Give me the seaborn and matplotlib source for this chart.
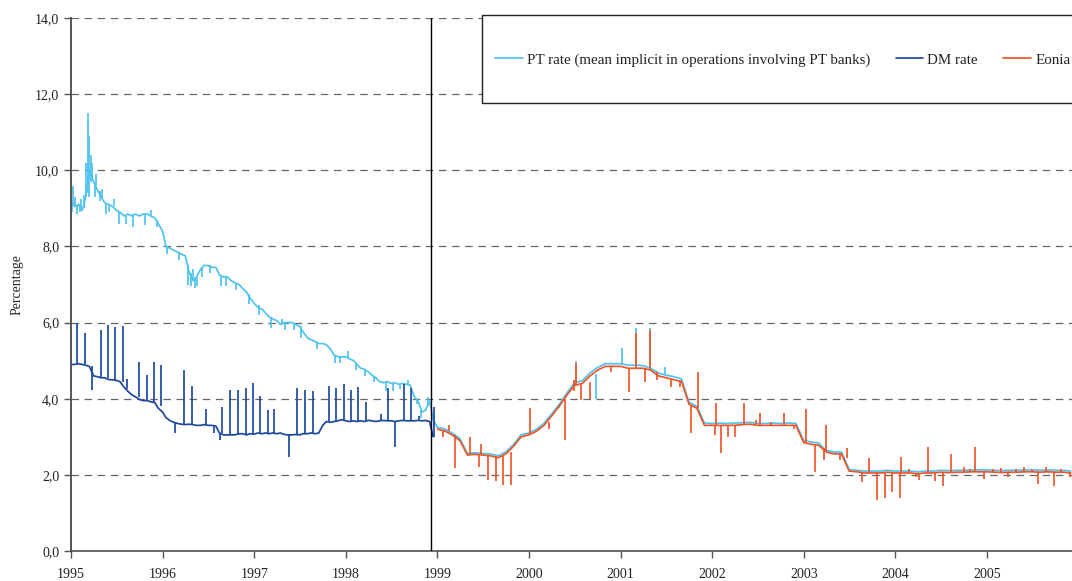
import pandas as pd
import matplotlib
matplotlib.use("Agg")
import matplotlib.pyplot as plt
import matplotlib.dates as mdates
from matplotlib.patches import Rectangle
from matplotlib.ticker import FuncFormatter
import seaborn as sns

# PT rate, semi-monthly 1995-1998
pt_9598 = [
    9.2, 9.05, 9.1, 8.95, 9.3, 10.0, 9.7, 9.5, 9.3, 9.15, 9.1, 9.05,
    8.95, 8.9, 8.8, 8.85, 8.8, 8.85, 8.8, 8.85, 8.85, 8.8, 8.75, 8.6,
    8.4, 8.0, 7.95, 7.9, 7.85, 7.8, 7.75, 7.35, 7.1, 7.2, 7.4, 7.5,
    7.5, 7.45, 7.45, 7.25, 7.2, 7.2, 7.1, 7.05, 7.0, 6.9, 6.8, 6.65,
    6.5, 6.4, 6.35, 6.25, 6.15, 6.1, 6.05, 5.95, 6.0, 6.0, 6.0, 5.95,
    5.9, 5.75, 5.6, 5.55, 5.5, 5.45, 5.45, 5.42, 5.3, 5.15, 5.1, 5.1,
    5.1, 5.05, 5.0, 4.9, 4.8, 4.78, 4.7, 4.62, 4.55, 4.45, 4.42, 4.45,
    4.4, 4.42, 4.38, 4.4, 4.38, 4.35, 4.05, 3.95, 3.65, 3.7, 3.95, 3.45,
]
# PT rate, monthly 1999-2005
pt_9905 = [
    3.25, 3.2, 3.1, 2.95, 2.56, 2.58, 2.56, 2.55, 2.5, 2.6, 2.8, 3.05,
    3.1, 3.2, 3.35, 3.6, 3.85, 4.15, 4.42, 4.47, 4.68, 4.82, 4.92, 4.92,
    4.92, 4.88, 4.88, 4.87, 4.8, 4.67, 4.62, 4.58, 4.52, 3.9, 3.8, 3.36,
    3.35, 3.36, 3.35, 3.36, 3.37, 3.38, 3.35, 3.35, 3.36, 3.35, 3.36, 3.35,
    2.9, 2.86, 2.84, 2.64, 2.6, 2.6, 2.14, 2.12, 2.1, 2.1, 2.1, 2.12,
    2.1, 2.1, 2.1, 2.08, 2.1, 2.1, 2.12, 2.11, 2.12, 2.12, 2.13, 2.13,
    2.13, 2.12, 2.11, 2.12, 2.12, 2.13, 2.13, 2.12, 2.13, 2.12, 2.12, 2.1,
]
# DM rate, semi-monthly 1995-1998
dm_rate = [
    4.9, 4.9, 4.92, 4.9, 4.88, 4.85, 4.6, 4.58, 4.55, 4.55, 4.5, 4.5,
    4.48, 4.45, 4.3, 4.2, 4.1, 4.05, 3.98, 3.95, 3.95, 3.92, 3.9, 3.75,
    3.65, 3.5, 3.42, 3.38, 3.35, 3.33, 3.32, 3.33, 3.32, 3.3, 3.3, 3.32,
    3.3, 3.3, 3.28, 3.1, 3.05, 3.05, 3.05, 3.05, 3.08, 3.08, 3.05, 3.08,
    3.07, 3.1, 3.08, 3.1, 3.08, 3.1, 3.08, 3.1, 3.06, 3.05, 3.05, 3.06,
    3.05, 3.08, 3.08, 3.1, 3.08, 3.1, 3.3, 3.4, 3.38, 3.4, 3.42, 3.45,
    3.42, 3.4, 3.42, 3.4, 3.42, 3.4, 3.43, 3.42, 3.4, 3.42, 3.43, 3.42,
    3.42, 3.4, 3.42, 3.43, 3.42, 3.42, 3.42, 3.43, 3.42, 3.43, 3.4, 3.0,
]
# Eonia, monthly 1999-2005
eonia = [
    3.2, 3.15, 3.05, 2.9, 2.52, 2.54, 2.52, 2.5, 2.45, 2.55, 2.75, 3.0,
    3.05, 3.15, 3.3, 3.55, 3.8, 4.1, 4.35, 4.4, 4.6, 4.75, 4.85, 4.85,
    4.85, 4.8, 4.8, 4.8, 4.75, 4.6, 4.55, 4.5, 4.45, 3.85, 3.75, 3.3,
    3.3, 3.3, 3.3, 3.3, 3.32, 3.33, 3.3, 3.3, 3.3, 3.3, 3.3, 3.3,
    2.85, 2.8, 2.78, 2.6, 2.55, 2.55, 2.1, 2.08, 2.05, 2.05, 2.05, 2.07,
    2.05, 2.05, 2.05, 2.03, 2.05, 2.05, 2.07, 2.06, 2.07, 2.07, 2.08, 2.08,
    2.08, 2.07, 2.06, 2.07, 2.07, 2.08, 2.08, 2.07, 2.08, 2.07, 2.07, 2.05,
]

# single-day spikes: date, usual level, spike value
pt_spike_dates = ["1995-01-03", "1995-01-09", "1995-01-16", "1995-01-25", "1995-02-05",
                  "1995-02-10", "1995-02-20", "1995-03-03", "1995-03-08", "1995-03-12",
                  "1995-03-15", "1995-03-20", "1995-03-25", "1995-04-05", "1995-04-12",
                  "1995-04-25", "1995-05-05", "1995-05-20", "1995-06-01", "1995-06-20",
                  "1995-07-10", "1995-08-10", "1995-09-05", "1995-10-25", "1995-11-15",
                  "1995-12-10", "1996-01-20", "1996-03-05", "1996-04-10", "1996-04-22",
                  "1996-05-01", "1996-05-10", "1996-05-18", "1996-06-08", "1996-07-10",
                  "1996-08-22", "1996-09-10", "1996-10-20", "1996-12-10", "1997-01-20",
                  "1997-03-10", "1997-04-20", "1997-05-05", "1997-06-10", "1997-07-05",
                  "1997-09-10", "1997-11-20", "1997-12-10", "1998-01-10", "1998-02-10",
                  "1998-03-20", "1998-04-25", "1998-06-10", "1998-07-10", "1998-08-05",
                  "1998-09-05", "1998-10-10", "1998-10-28", "1998-11-25",
                  "2000-07-06", "2000-09-25", "2001-01-05", "2001-03-05", "2001-04-27",
                  "2001-06-25"]
pt_spike_base = [9.2, 9.1, 9.05, 9.05, 9.1, 9.0, 9.0, 9.3, 9.4, 9.8,
                 10.0, 9.7, 9.8, 9.7, 9.6, 9.45, 9.25, 9.15, 9.1, 9.05,
                 8.9, 8.8, 8.85, 8.85, 8.8, 8.7, 8.0, 7.85, 7.5, 7.3,
                 7.1, 7.15, 7.2, 7.45, 7.5, 7.25, 7.2, 7.05, 6.75, 6.45,
                 6.12, 5.95, 6.0, 6.0, 5.9, 5.48, 5.15, 5.1, 5.08, 4.95,
                 4.77, 4.6, 4.45, 4.4, 4.38, 4.38, 4.0, 3.7, 3.8,
                 4.4, 4.65, 4.9, 4.88, 4.85, 4.65]
pt_spike_peak = [8.9, 9.6, 9.3, 8.85, 8.9, 9.25, 9.35, 10.2, 11.5, 10.9,
                 9.3, 10.4, 10.2, 9.3, 9.9, 9.2, 9.5, 8.85, 8.9, 9.25,
                 8.6, 8.6, 8.5, 8.55, 8.95, 8.5, 7.8, 7.65, 7.0, 6.95,
                 7.4, 6.9, 6.95, 7.2, 7.3, 6.95, 6.95, 6.85, 6.5, 6.2,
                 5.85, 6.1, 5.8, 5.8, 5.6, 5.3, 4.95, 4.95, 5.25, 4.75,
                 4.6, 4.45, 4.2, 4.2, 4.25, 4.5, 3.85, 3.5, 4.05,
                 5.0, 4.0, 5.33, 5.85, 5.85, 4.83]

dm_spike_dates = ["1995-01-26", "1995-02-26", "1995-03-27", "1995-04-30", "1995-05-29",
                  "1995-06-25", "1995-07-27", "1995-08-14", "1995-09-29", "1995-10-31",
                  "1995-11-29", "1995-12-25", "1996-02-20", "1996-03-27", "1996-04-27",
                  "1996-06-22", "1996-07-26", "1996-08-18", "1996-08-26", "1996-09-27",
                  "1996-10-29", "1996-11-27", "1996-12-25", "1997-01-25", "1997-02-24",
                  "1997-03-22", "1997-05-21", "1997-06-22", "1997-07-23", "1997-08-25",
                  "1997-10-25", "1997-11-23", "1997-12-23", "1998-01-23", "1998-02-19",
                  "1998-03-23", "1998-05-22", "1998-06-18", "1998-07-18", "1998-08-20",
                  "1998-09-18", "1998-10-21", "1998-12-20"]
dm_spike_base = [4.9, 4.9, 4.85, 4.58, 4.55, 4.5, 4.45, 4.25, 4.05, 3.95,
                 3.92, 3.8, 3.38, 3.33, 3.32, 3.31, 3.3, 3.1, 3.1, 3.05,
                 3.05, 3.08, 3.07, 3.1, 3.1, 3.09, 3.05, 3.06, 3.07, 3.09,
                 3.4, 3.4, 3.44, 3.41, 3.41, 3.42, 3.42, 3.44, 3.42, 3.42,
                 3.42, 3.42, 3.0]
dm_spike_peak = [6.0, 5.72, 4.23, 5.8, 5.93, 5.88, 5.9, 4.53, 4.97, 4.62,
                 4.97, 4.88, 3.1, 4.75, 4.33, 3.72, 3.1, 2.92, 3.79, 4.23,
                 4.23, 4.28, 4.42, 4.07, 3.7, 3.72, 2.47, 4.28, 4.23, 4.21,
                 4.33, 4.28, 4.38, 4.23, 4.3, 3.92, 3.59, 4.29, 2.74, 4.38,
                 4.28, 3.55, 3.78]

eonia_spike_dates = ["1999-01-25", "1999-02-16", "1999-03-14", "1999-05-11", "1999-06-18",
                     "1999-06-24", "1999-07-21", "1999-08-21", "1999-09-19", "1999-10-23",
                     "2000-01-04", "2000-03-20", "2000-05-26", "2000-06-28", "2000-07-06",
                     "2000-07-28", "2000-08-31", "2000-11-25", "2001-02-03", "2001-03-05",
                     "2001-04-08", "2001-04-27", "2001-05-25", "2001-07-20", "2001-08-25",
                     "2001-10-10", "2001-11-06", "2002-01-13", "2002-01-15", "2002-02-06",
                     "2002-03-06", "2002-04-02", "2002-05-08", "2002-06-25", "2002-07-09",
                     "2002-08-25", "2002-10-14", "2002-11-25", "2003-01-11", "2003-02-15",
                     "2003-03-21", "2003-03-29", "2003-05-25", "2003-06-21", "2003-08-20",
                     "2003-09-19", "2003-10-21", "2003-11-21", "2003-12-21", "2004-01-22",
                     "2004-01-26", "2004-02-25", "2004-03-25", "2004-04-05", "2004-05-09",
                     "2004-06-08", "2004-07-11", "2004-08-09", "2004-09-30", "2004-10-25",
                     "2004-11-16", "2004-12-22", "2005-01-25", "2005-02-25", "2005-03-25",
                     "2005-04-26", "2005-05-27", "2005-06-28", "2005-07-22", "2005-08-25",
                     "2005-09-26", "2005-10-25", "2005-11-30"]
eonia_spike_base = [3.18, 3.15, 3.05, 2.52, 2.52, 2.52, 2.52, 2.5, 2.5, 2.6,
                    3.05, 3.4, 4.0, 4.2, 4.35, 4.35, 4.45, 4.85, 4.8, 4.8,
                    4.8, 4.77, 4.7, 4.52, 4.5, 3.8, 3.75, 3.3, 3.3, 3.3,
                    3.3, 3.3, 3.32, 3.33, 3.3, 3.3, 3.3, 3.3, 2.85, 2.8,
                    2.7, 2.62, 2.55, 2.45, 2.08, 2.05, 2.05, 2.05, 2.06, 2.05,
                    2.05, 2.05, 2.05, 2.03, 2.05, 2.05, 2.07, 2.06, 2.07, 2.07,
                    2.08, 2.08, 2.08, 2.07, 2.06, 2.07, 2.07, 2.08, 2.08, 2.07,
                    2.08, 2.07, 2.07]
eonia_spike_peak = [3.0, 3.3, 2.18, 3.0, 2.2, 2.8, 1.86, 1.83, 1.74, 1.74,
                    3.76, 3.2, 2.92, 4.5, 4.93, 3.97, 4.0, 4.7, 4.18, 5.72,
                    4.45, 5.8, 4.5, 4.3, 4.3, 3.1, 4.7, 3.05, 3.88, 2.57,
                    3.0, 3.0, 3.88, 3.45, 3.62, 3.4, 3.62, 3.2, 3.72, 2.07,
                    2.4, 3.3, 2.4, 2.7, 1.81, 2.44, 1.34, 1.39, 1.55, 1.4,
                    2.47, 2.15, 1.95, 1.86, 2.74, 1.85, 1.71, 2.55, 2.2, 2.15,
                    2.74, 1.9, 2.15, 2.18, 1.95, 2.15, 2.2, 2.15, 1.76, 2.2,
                    1.7, 2.15, 1.95]

dates_9598 = pd.date_range("1995-01-01", "1998-12-15", freq="SMS")
dates_9905 = pd.date_range("1999-01-01", "2005-12-01", freq="MS")

pt = pd.DataFrame({"date": list(dates_9598) + list(dates_9905), "rate": pt_9598 + pt_9905})
dm = pd.DataFrame({"date": dates_9598, "rate": dm_rate})
eo = pd.DataFrame({"date": dates_9905, "rate": eonia})

c_pt = "#4fc3ef"
c_dm = "#1e48a0"
c_eo = "#f0552a"
lw = 1.25

sns.set_style("white")
plt.rcParams["font.family"] = ["Liberation Serif", "DejaVu Serif"]
plt.rcParams["text.color"] = "#222222"

fig, ax = plt.subplots(figsize=(10.72, 5.81), dpi=100)
fig.subplots_adjust(left=71 / 1072, right=1.0, bottom=1 - 551 / 581, top=1 - 18 / 581)

sns.lineplot(data=pt, x="date", y="rate", color=c_pt, lw=lw, ax=ax, zorder=2,
             label="PT rate (mean implicit in operations involving PT banks)")
ax.vlines(pd.to_datetime(pt_spike_dates), pt_spike_base, pt_spike_peak, color=c_pt, lw=lw, zorder=2)
sns.lineplot(data=dm, x="date", y="rate", color=c_dm, lw=lw, ax=ax, zorder=3, label="DM rate")
ax.vlines(pd.to_datetime(dm_spike_dates), dm_spike_base, dm_spike_peak, color=c_dm, lw=lw, zorder=3)
sns.lineplot(data=eo, x="date", y="rate", color=c_eo, lw=lw, ax=ax, zorder=3, label="Eonia")
ax.vlines(pd.to_datetime(eonia_spike_dates), eonia_spike_base, eonia_spike_peak, color=c_eo, lw=lw, zorder=3)

ax.axvline(pd.Timestamp("1998-12-08"), color="black", lw=1.0, zorder=4)

handles, labels = ax.get_legend_handles_labels()
if ax.get_legend() is not None:
    ax.get_legend().remove()

ax.set_xlim(pd.Timestamp("1995-01-01"), pd.Timestamp("2005-12-06"))
ax.set_ylim(0, 14)
ax.set_yticks(range(0, 15, 2))
ax.yaxis.set_major_formatter(FuncFormatter(lambda v, p: f"{v:.1f}".replace(".", ",")))
ax.xaxis.set_major_locator(mdates.YearLocator())
ax.xaxis.set_major_formatter(mdates.DateFormatter("%Y"))

ax.yaxis.grid(True, linestyle=(0, (6, 4.5)), color="#666666", lw=0.9)
ax.set_axisbelow(True)
sns.despine(ax=ax, top=True, right=True)
ax.spines["left"].set_color("#555555")
ax.spines["left"].set_linewidth(1.4)
ax.spines["bottom"].set_color("#444444")
ax.spines["bottom"].set_linewidth(1.1)
ax.tick_params(axis="both", direction="out", length=5, width=1.0, color="#555555",
               labelsize=10, labelcolor="#222222", left=True, bottom=True)
ax.tick_params(axis="y", pad=3.5)
ax.tick_params(axis="x", pad=7)
ax.set_xlabel("")
ax.set_ylabel("Percentage", fontsize=10, labelpad=8)

# legend box in the upper right corner
fig.patches.append(Rectangle((482 / 1072, 1 - 103 / 581), 0.6, 88 / 581, transform=fig.transFigure,
                             facecolor="white", edgecolor="#222222", lw=1.0, zorder=1))
fig.legend(handles, labels, loc="center left", bbox_to_anchor=(495 / 1072, 1 - 60 / 581),
           ncol=3, frameon=False, fontsize=10.8, handlelength=1.85, handletextpad=0.27,
           columnspacing=1.7, borderpad=0, borderaxespad=0)

fig.savefig("out.png", dpi=100)
